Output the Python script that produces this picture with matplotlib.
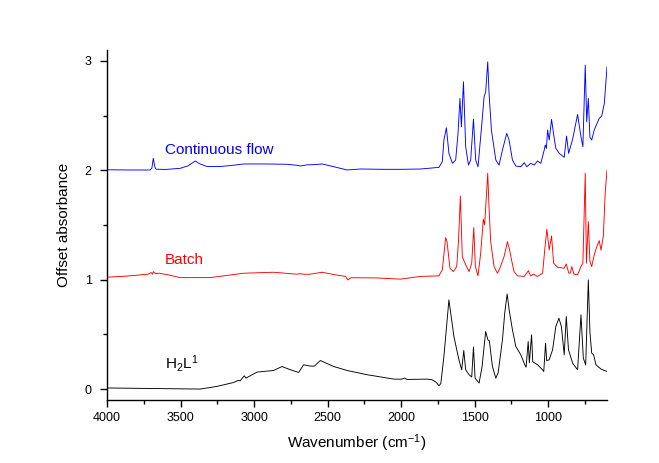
import matplotlib
matplotlib.use("Agg")
import matplotlib.pyplot as plt
from matplotlib.ticker import MultipleLocator

plt.rcParams['font.family'] = ['Liberation Sans', 'DejaVu Sans']
plt.rcParams['mathtext.fontset'] = 'custom'
plt.rcParams['mathtext.rm'] = 'Liberation Sans'
plt.rcParams['mathtext.it'] = 'Liberation Sans'

# Continuous flow (offset +2)
flow_wn = [4000, 3850, 3707, 3695, 3685, 3675, 3666, 3600, 3503, 3450, 3400, 3370, 3321, 3230, 3150,
           3071, 2912, 2776, 2700, 2685, 2640, 2590, 2537, 2458, 2367, 2276, 2117, 2004, 1867, 1743,
           1720, 1709, 1692, 1675, 1651, 1629, 1613, 1600, 1590, 1576, 1561, 1542, 1527, 1508, 1493,
           1477, 1447, 1436, 1425, 1411, 1402, 1386, 1356, 1334, 1311, 1282, 1266, 1243, 1220, 1186,
           1163, 1145, 1118, 1095, 1072, 1050, 1027, 1020, 1012, 1004, 993, 977, 959, 948, 925,
           891, 875, 861, 834, 800, 777, 764, 748, 738, 727, 716, 704, 687, 653, 636, 618, 600]
flow_abs = [2.005, 2.003, 2.003, 2.02, 2.11, 2.03, 2.01, 2.008, 2.018, 2.04, 2.085, 2.06, 2.035, 2.035, 2.045,
            2.058, 2.058, 2.055, 2.045, 2.039, 2.05, 2.052, 2.058, 2.033, 2.003, 2.012, 2.009, 2.009, 2.012, 2.027,
            2.079, 2.277, 2.389, 2.155, 2.064, 2.094, 2.338, 2.658, 2.398, 2.809, 2.216, 2.048, 2.094, 2.468, 2.094,
            2.033, 2.490, 2.672, 2.718, 2.992, 2.703, 2.368, 2.094, 2.048, 2.185, 2.338, 2.277, 2.094, 2.039, 2.033,
            2.070, 2.033, 2.064, 2.048, 2.085, 2.064, 2.185, 2.231, 2.20, 2.368, 2.277, 2.466, 2.292, 2.201, 2.155,
            2.119, 2.313, 2.155, 2.283, 2.511, 2.307, 2.216, 2.962, 2.444, 2.658, 2.301, 2.277, 2.368, 2.475, 2.496,
            2.612, 2.946]

# Batch (offset +1)
batch_wn = [4000, 3900, 3800, 3753, 3720, 3700, 3690, 3685, 3670, 3650, 3594, 3503, 3298, 3071, 2867,
            2707, 2690, 2660, 2620, 2537, 2458, 2378, 2363, 2340, 2162, 2004, 1867, 1743, 1720, 1697,
            1688, 1668, 1645, 1622, 1610, 1597, 1584, 1561, 1538, 1520, 1506, 1495, 1477, 1459, 1441,
            1432, 1411, 1402, 1391, 1368, 1345, 1330, 1300, 1277, 1262, 1247, 1232, 1209, 1163, 1134,
            1120, 1100, 1072, 1038, 1022, 1009, 993, 977, 963, 936, 891, 877, 860, 850, 839,
            825, 800, 777, 764, 748, 740, 727, 716, 704, 687, 670, 653, 641, 625, 612, 600]
batch_abs = [1.023, 1.03, 1.04, 1.047, 1.05, 1.065, 1.05, 1.074, 1.055, 1.06, 1.047, 1.019, 1.019, 1.059, 1.068,
             1.050, 1.055, 1.05, 1.05, 1.068, 1.047, 1.03, 0.998, 1.018, 1.016, 1.005, 1.03, 1.035, 1.089, 1.385,
             1.35, 1.105, 1.074, 1.12, 1.35, 1.765, 1.211, 1.135, 1.074, 1.15, 1.476, 1.12, 1.035, 1.242, 1.553,
             1.50, 1.973, 1.65, 1.348, 1.12, 1.059, 1.10, 1.211, 1.348, 1.27, 1.166, 1.074, 1.035, 1.03, 1.083,
             1.035, 1.05, 1.03, 1.059, 1.293, 1.461, 1.272, 1.40, 1.151, 1.114, 1.105, 1.144, 1.06, 1.059, 1.12,
             1.05, 1.045, 1.12, 1.15, 1.973, 1.15, 1.531, 1.166, 1.12, 1.226, 1.30, 1.357, 1.27, 1.40, 1.80,
             2.003]

# H2L1 (no offset)
lig_wn = [4000, 3366, 3253, 3140, 3105, 3095, 3067, 3055, 2980, 2867, 2810, 2760, 2697, 2663, 2617,
          2590, 2549, 2458, 2367, 2231, 2049, 2000, 1975, 1960, 1822, 1790, 1760, 1743, 1730, 1709,
          1675, 1641, 1607, 1588, 1574, 1561, 1538, 1520, 1508, 1497, 1470, 1450, 1425, 1410, 1400,
          1379, 1356, 1340, 1311, 1295, 1279, 1265, 1243, 1220, 1186, 1159, 1150, 1136, 1128, 1113,
          1105, 1072, 1038, 1030, 1018, 1010, 993, 970, 948, 927, 910, 891, 877, 862, 834,
          800, 777, 761, 745, 727, 716, 704, 691, 675, 641, 600]
lig_abs = [0.01, 0.0, 0.024, 0.06, 0.08, 0.075, 0.121, 0.10, 0.155, 0.17, 0.206, 0.18, 0.152, 0.222, 0.21,
           0.21, 0.261, 0.206, 0.17, 0.131, 0.091, 0.09, 0.10, 0.088, 0.091, 0.085, 0.06, 0.030, 0.05, 0.298,
           0.815, 0.48, 0.268, 0.176, 0.353, 0.176, 0.131, 0.11, 0.384, 0.10, 0.055, 0.20, 0.526, 0.45, 0.44,
           0.206, 0.10, 0.15, 0.45, 0.70, 0.870, 0.72, 0.542, 0.389, 0.313, 0.222, 0.20, 0.435, 0.24, 0.496,
           0.25, 0.222, 0.176, 0.16, 0.42, 0.26, 0.268, 0.359, 0.572, 0.648, 0.57, 0.313, 0.663, 0.36, 0.237,
           0.176, 0.679, 0.283, 0.22, 0.998, 0.52, 0.329, 0.313, 0.222, 0.183, 0.161]

fig = plt.figure(figsize=(6.59, 4.63), dpi=100)
ax = fig.add_axes([107/659, 1-400/463, 500/659, 350/463])

ax.plot(flow_wn, flow_abs, color='#0000ff', lw=0.65)
ax.plot(batch_wn, batch_abs, color='#ff0000', lw=0.65)
ax.plot(lig_wn, lig_abs, color='#000000', lw=0.65)

ax.set_xlim(4000, 600)
ax.set_ylim(-0.1, 3.1)
ax.xaxis.set_major_locator(MultipleLocator(500))
ax.xaxis.set_minor_locator(MultipleLocator(250))
ax.yaxis.set_major_locator(MultipleLocator(1))
ax.yaxis.set_minor_locator(MultipleLocator(0.5))
for s in ['top', 'right']:
    ax.spines[s].set_visible(False)
for s in ['left', 'bottom']:
    ax.spines[s].set_linewidth(1.0)
ax.tick_params(which='major', direction='out', length=5, width=1, labelsize=9)
ax.tick_params(axis='y', which='major', pad=6)
ax.tick_params(which='minor', direction='out', length=3, width=1)

ax.set_xlabel('Wavenumber (cm$^{-1}$)', fontsize=11, labelpad=6)
ax.set_ylabel('Offset absorbance', fontsize=11, labelpad=10)

ax.text(3605, 2.15, 'Continuous flow', color='#0000ff', fontsize=11, va='baseline', ha='left')
ax.text(3605, 1.145, 'Batch', color='#ff0000', fontsize=11, va='baseline', ha='left')
ax.text(3605, 0.19, 'H$_2$L$^1$', color='#000000', fontsize=11, va='baseline', ha='left')

fig.savefig('out.png', dpi=100)
